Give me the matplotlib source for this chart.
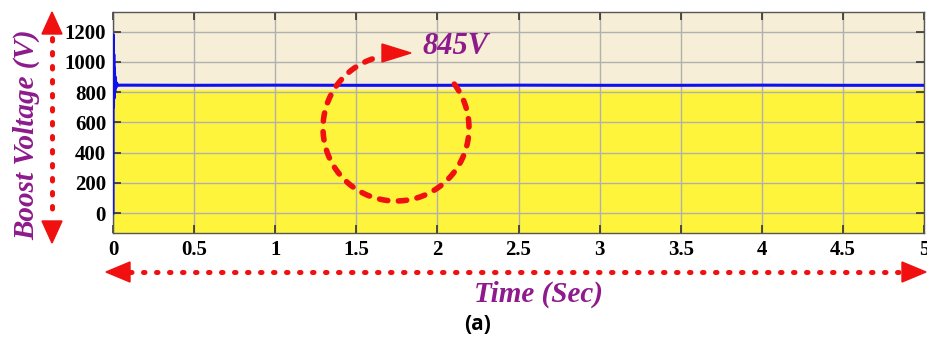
import matplotlib
matplotlib.use("Agg")
import matplotlib.pyplot as plt
import numpy as np
from matplotlib.transforms import Affine2D
from matplotlib.lines import Line2D
from matplotlib.patches import Polygon

# boost converter output voltage
time_s = [0.0, 0.001, 0.003, 0.005, 0.007, 0.009, 0.011, 0.014, 0.018, 0.022,
          0.03, 0.05, 0.5, 1.0, 1.5, 2.0, 2.5, 3.0, 3.5, 4.0, 4.5, 5.0]
boost_v = [0, 1180, 700, 1050, 760, 960, 800, 900, 830, 860,
           845, 846, 845, 846, 845, 845, 846, 845, 845, 846, 845, 845]
x_ticks = [0, 0.5, 1, 1.5, 2, 2.5, 3, 3.5, 4, 4.5, 5]
x_labels = ["0", "0.5", "1", "1.5", "2", "2.5", "3", "3.5", "4", "4.5", "5"]
y_ticks = [0, 200, 400, 600, 800, 1000, 1200]
band_top = 815   # top of the yellow band
steady_label = "845V"

W, H = 927, 347
purple = "#8e1a8c"
red = "#f01010"
serif_bi = dict(family="Liberation Serif", weight="bold", style="italic", color=purple)

fig = plt.figure(figsize=(W / 100, H / 100), dpi=100)
ax = fig.add_axes([113 / W, 1 - 233 / H, 811 / W, 221 / H])
ax.set_facecolor("#f6eed6")
ax.axhspan(-300, band_top, color="#fff43c", zorder=1)
ax.plot(time_s, boost_v, color="#1010ee", lw=2.2, zorder=3)
ax.set_xlim(0, 5)
ax.set_ylim(-132, 1330)
ax.set_xticks(x_ticks)
ax.set_xticklabels(x_labels)
ax.set_yticks(y_ticks)
ax.grid(True, color="#b0b0b0", lw=1.0)
ax.tick_params(direction="in", length=6, width=1.2, color="#333333",
               top=True, right=True, labelsize=15, pad=5)
for lab in ax.get_xticklabels() + ax.get_yticklabels():
    lab.set_family("Liberation Serif")
    lab.set_weight("bold")
for s in ax.spines.values():
    s.set_color("#555555")
    s.set_linewidth(1.0)

# pixel coordinates, y counted from the top
pix = Affine2D().scale(1 / W, -1 / H).translate(0, 1) + fig.transFigure


def dotted(xs, ys, on, off, lw=3.6):
    ln = Line2D(xs, ys, transform=pix, color=red, lw=lw, dashes=(on, off),
                solid_capstyle="round", dash_capstyle="round")
    fig.add_artist(ln)


def head(pts):
    fig.add_artist(Polygon(pts, closed=True, transform=pix, color=red))


# vertical double arrow
dotted([52, 52], [38, 218], 0.5, 2.3)
head([(52, 12), (42, 34), (62, 34)])
head([(52, 243), (42, 221), (62, 221)])
# horizontal double arrow
dotted([130, 902], [272, 272], 0.3, 2.3)
head([(106, 272), (130, 262), (130, 282)])
head([(926, 272), (902, 262), (902, 282)])

# dashed circle around the steady value
ang = np.radians(np.linspace(37, 109 - 360, 200))
cx, cy, r = 396, 128, 73
dotted(cx + r * np.cos(ang), cy - r * np.sin(ang), 1.5, 1.9, lw=4.0)
head([(411, 53), (382, 44), (382, 62)])

fig.text(456 / W, 1 - 47 / H, steady_label, fontsize=22, ha="center", va="center", **serif_bi)
fig.text(27 / W, 1 - 135 / H, "Boost Voltage (V)", fontsize=21, rotation=90,
         ha="center", va="center", **serif_bi)
fig.text(538 / W, 1 - 294 / H, "Time (Sec)", fontsize=21, ha="center", va="center", **serif_bi)
fig.text(478 / W, 1 - 325 / H, "(a)", fontsize=15, family="Open Sans", weight="bold",
         ha="center", va="center")

fig.savefig("out.png", dpi=100)
